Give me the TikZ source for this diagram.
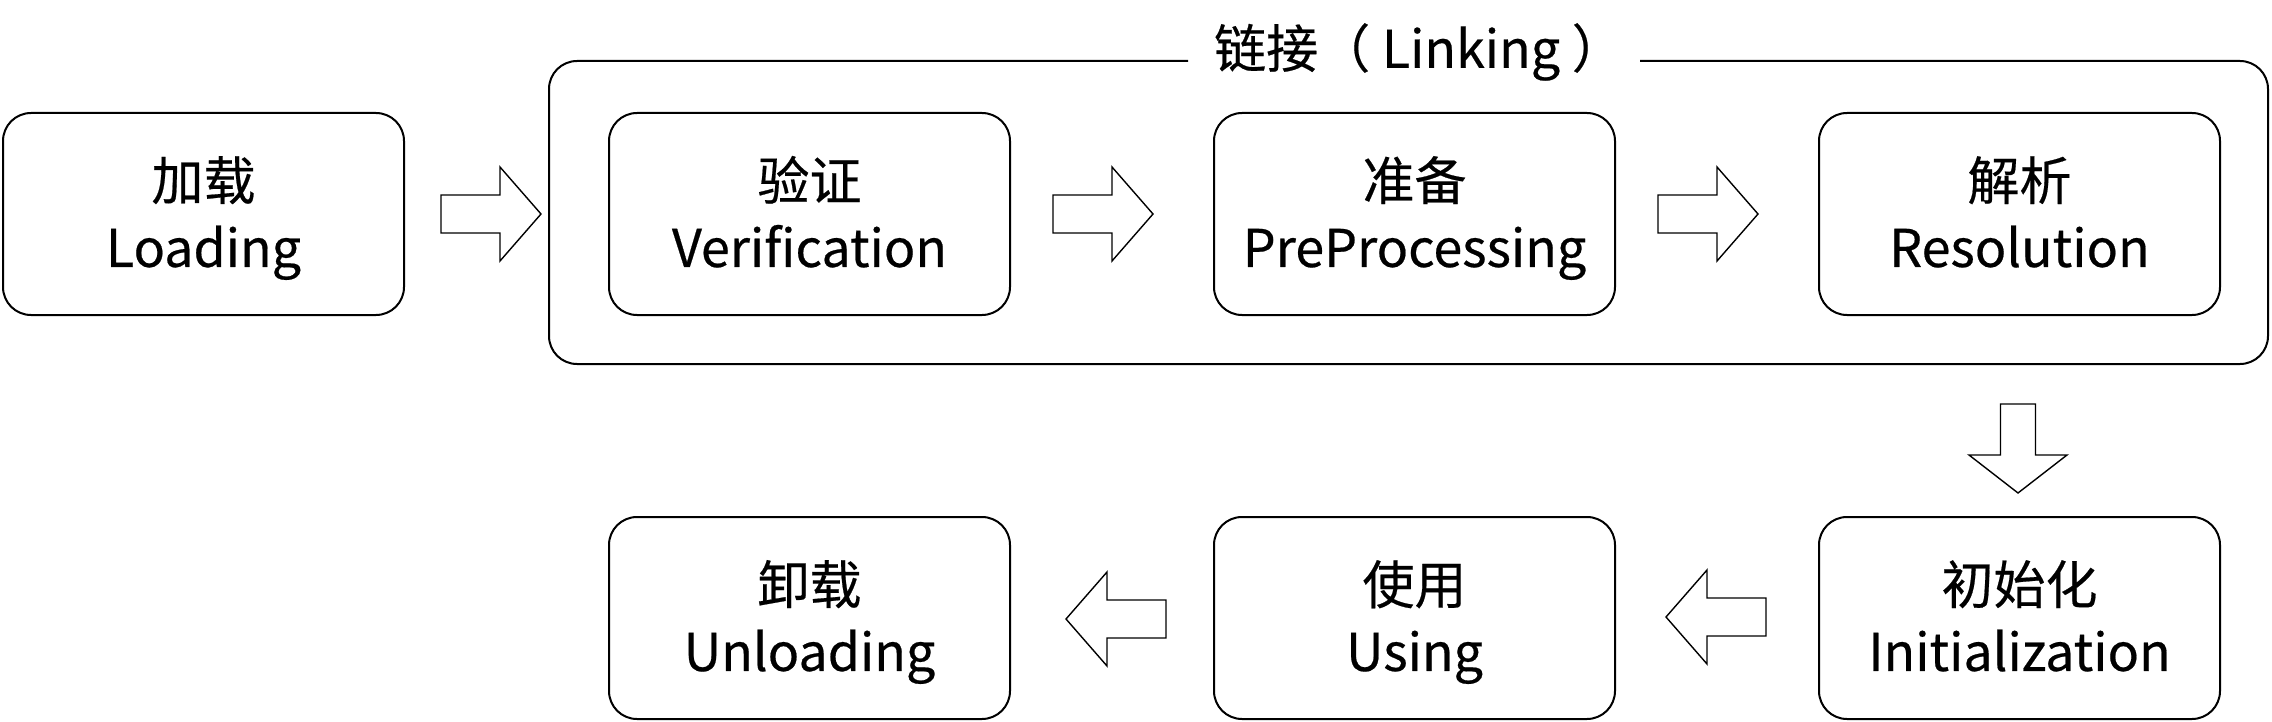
\documentclass[tikz,border=0pt]{standalone}
\usepackage{fontspec}
\setmainfont{Noto Sans CJK SC}[FakeBold=0.4]
\newcommand\tstrut{\rule{0pt}{29.5pt}}
\begin{document}
\begin{tikzpicture}[x=0.5pt,y=-0.5pt,
  stage/.style={draw=black,line width=1pt,rounded corners=14pt,
    minimum width=200.5pt,minimum height=101pt,align=center,
    inner sep=0pt,font=\fontsize{26}{33.5}\selectfont},
  frame/.style={draw=black,line width=1pt,rounded corners=14pt},
  barrow/.style={draw=black,line width=0.7pt,fill=white,line join=miter},
  blockr/.pic={\draw[barrow] (0,-19) -- (59,-19) -- (59,-47) -- (100,0) -- (59,47) -- (59,19) -- (0,19) -- cycle;},
  blockd/.pic={\draw[barrow] (0,-17.5) -- (51,-17.5) -- (51,-49) -- (89,0) -- (51,49) -- (51,17.5) -- (0,17.5) -- cycle;}
]
\useasboundingbox (0,0) rectangle (2272,722);
% linking frame
\node[font=\fontsize{26}{31}\selectfont,inner sep=0pt] (link) at (1419,52) {链接（ Linking ）};
\draw[frame] (1188,61) -- (549,61) -- (549,364) -- (2268,364) -- (2268,61) -- (1640,61);
% stages
\node[stage] (load) at (203.5,214) {\tstrut 加载\\\strut Loading};
\node[stage] (verif) at (809.5,214) {\tstrut 验证\\\strut Verification};
\node[stage] (prep) at (1414.5,214) {\tstrut 准备\\\strut PreProcessing};
\node[stage] (resol) at (2019.5,214) {\tstrut 解析\\\strut Resolution};
\node[stage] (init) at (2019.5,618) {\tstrut 初始化\\\strut Initialization};
\node[stage] (use) at (1414.5,618) {\tstrut 使用\\\strut Using};
\node[stage] (unload) at (809.5,618) {\tstrut 卸载\\\strut Unloading};
% block arrows
\pic at (441,214) {blockr};
\pic at (1053,214) {blockr};
\pic at (1658,214) {blockr};
\pic[rotate=-90] at (2018,404) {blockd};
\pic[rotate=180] at (1766,617) {blockr};
\pic[rotate=180] at (1166,619) {blockr};
\end{tikzpicture}
\end{document}
